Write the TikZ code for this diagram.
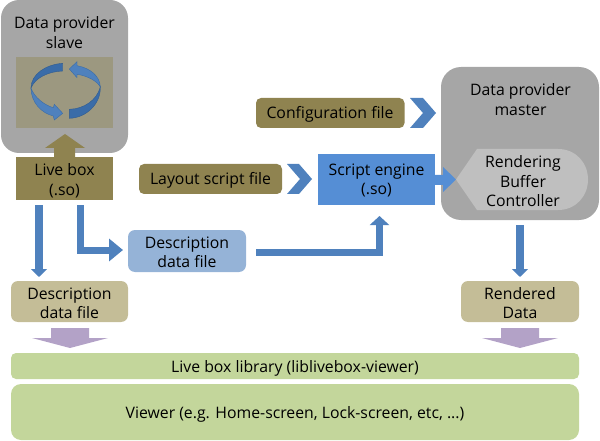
\documentclass[tikz,border=0pt]{standalone}
\usepackage{fontspec}
\setmainfont{Open Sans}
\usetikzlibrary{arrows.meta}
\definecolor{grayA}{HTML}{A6A6A6}
\definecolor{grayB}{HTML}{BFBFBF}
\definecolor{olive}{HTML}{8F8350}
\definecolor{tan}{HTML}{C4BD97}
\definecolor{lightblue}{HTML}{95B3D7}
\definecolor{engine}{HTML}{558ED5}
\definecolor{flow}{HTML}{4F81BD}
\definecolor{flowdark}{HTML}{3A6CA8}
\definecolor{purp}{HTML}{B3A2C7}
\definecolor{green}{HTML}{C3D69B}
\definecolor{inner}{HTML}{9C9880}
\tikzset{
  x=1pt,y=-1pt,
  txt/.style={font=\fontsize{15.8}{19.5}\selectfont,text=black,align=center,inner sep=0,yshift=-1.6pt},
  conn/.style={draw=flow,line width=#1},
  loopdark/.style={fill=flowdark,draw=flowdark!85!black,line width=0.4pt},
  looplight/.style={fill=flow,draw=flowdark,line width=0.4pt},
}
\newcommand{\boxat}[7]{% name, x0,y0,x1,y1, radius, color
  \fill[#7,rounded corners=#6] (#2,#3) rectangle (#4,#5);
  \coordinate (#1) at ({(#2+#4)/2},{(#3+#5)/2});
}
\begin{document}
\begin{tikzpicture}
\useasboundingbox (0,0) rectangle (600,441);
% boxes
\boxat{slave}{1}{0}{128}{153}{18}{grayA}
\fill[inner] (16,57) rectangle (113,128);
\node[txt] (slavetext) at (64.5,31) {Data provider\\slave};
\boxat{master}{441}{67}{599}{220}{20}{grayA}
\node[txt] (mastertext) at (520.5,98) {Data provider\\master};
% rendering buffer
\fill[grayB] (456,179.5) -- (477,149) -- (558,149) .. controls (576,149) and (588,163) .. (588,179.5) .. controls (588,196) and (576,210) .. (558,210) -- (477,210) -- cycle;
\node[txt] (render) at (523,179.5) {Rendering\\Buffer\\Controller};
% up arrow
\fill[olive] (65,134) -- (85,148) -- (75,148) -- (75,157) -- (54,157) -- (54,148) -- (45,148) -- cycle;
\fill[olive] (16,157) rectangle (113,200);
\node[txt] (live) at (64.5,179) {Live box\\(.so)};
\boxat{layout}{139}{164}{282}{194}{5}{olive}
\node[txt] (layouttext) at (210.5,179) {Layout script file};
\boxat{config}{256}{98}{404.5}{128}{5}{olive}
\node[txt] (configtext) at (330,113) {Configuration file};
\fill[engine] (318,154) rectangle (435,205);
\node[txt] (engine) at (376.5,179) {Script engine\\(.so)};
\boxat{descb}{128}{230}{246}{272}{7}{lightblue}
\node[txt] (descbtext) at (187,250.5) {Description\\data file};
\boxat{desct}{11}{281}{128}{322}{7}{tan}
\node[txt] (descttext) at (69.5,301.5) {Description\\data file};
\boxat{rendered}{461}{281}{579}{322}{7}{tan}
\node[txt] (renderedtext) at (520,301.5) {Rendered\\Data};
\boxat{lib}{11}{353}{579}{379}{5}{green}
\node[txt] (libtext) at (295,367) {Live box library (liblivebox-viewer)};
\boxat{viewer}{11}{384}{579}{440}{10}{green}
\node[txt] (viewertext) at (295,413) {Viewer (e.g. Home-screen, Lock-screen, etc, ...)};
% chevrons
\fill[flow] (287,164) -- (299,164) -- (312,179) -- (299,194) -- (287,194) -- (300,179) -- cycle;
\fill[flow] (410,98) -- (423,98) -- (436,113) -- (423,128) -- (410,128) -- (423,113) -- cycle;
% engine to rendering
\fill[engine] (435,175) -- (443,175) -- (443,167) -- (456,179.5) -- (443,192) -- (443,185) -- (435,185) -- cycle;
% connectors
\coordinate (a0) at (39,205); \coordinate (a1) at (39,277);
\draw[conn=8,-{Triangle[length=8pt,width=16pt]}] (a0) -- (a1);
\coordinate (b0) at (80.5,205); \coordinate (b1) at (80.5,250); \coordinate (b2) at (123,250);
\draw[conn=7,-{Triangle[length=14pt,width=22pt]}] (b0) -- (b1) -- (b2);
\coordinate (c0) at (256,252.5); \coordinate (c1) at (379.5,252.5); \coordinate (c2) at (379.5,216);
\draw[conn=7,-{Triangle[length=9pt,width=19pt]}] (c0) -- (c1) -- (c2);
\coordinate (d0) at (520,225); \coordinate (d1) at (520,277);
\draw[conn=8,-{Triangle[length=8pt,width=16pt]}] (d0) -- (d1);
% purple arrows
\fill[purp] (51,328) -- (89,328) -- (89,338) -- (108,338) -- (70,348) -- (32,338) -- (51,338) -- cycle;
\fill[purp] (501,328) -- (539,328) -- (539,338) -- (558,338) -- (520,348) -- (482,338) -- (501,338) -- cycle;
% circular arrows
\path[loopdark] (62.7,63.3) .. controls (46,64.5) and (31,74) .. (31,88) .. controls (35,78) and (48,71.5) .. (62.7,71) -- cycle;
\path[looplight] (31,88) .. controls (31,102) and (41,113) .. (53.3,116) -- (54.3,120) -- (62.7,113.3) -- (54.3,104.3) -- (53.3,107.7) .. controls (44,105) and (34,97) .. (31,88) -- cycle;
\path[looplight] (100.3,87) .. controls (100,76) and (90,68) .. (77,65.7) -- (77,61.7) -- (69.3,69) -- (77,77.7) -- (77,74.3) .. controls (88,76) and (97,81) .. (100.3,87) -- cycle;
\path[loopdark] (100.3,87) .. controls (101,104) and (86,118) .. (69.3,118.3) -- (69.3,109.3) .. controls (84,109) and (97,100) .. (100.3,87) -- cycle;
\end{tikzpicture}
\end{document}
